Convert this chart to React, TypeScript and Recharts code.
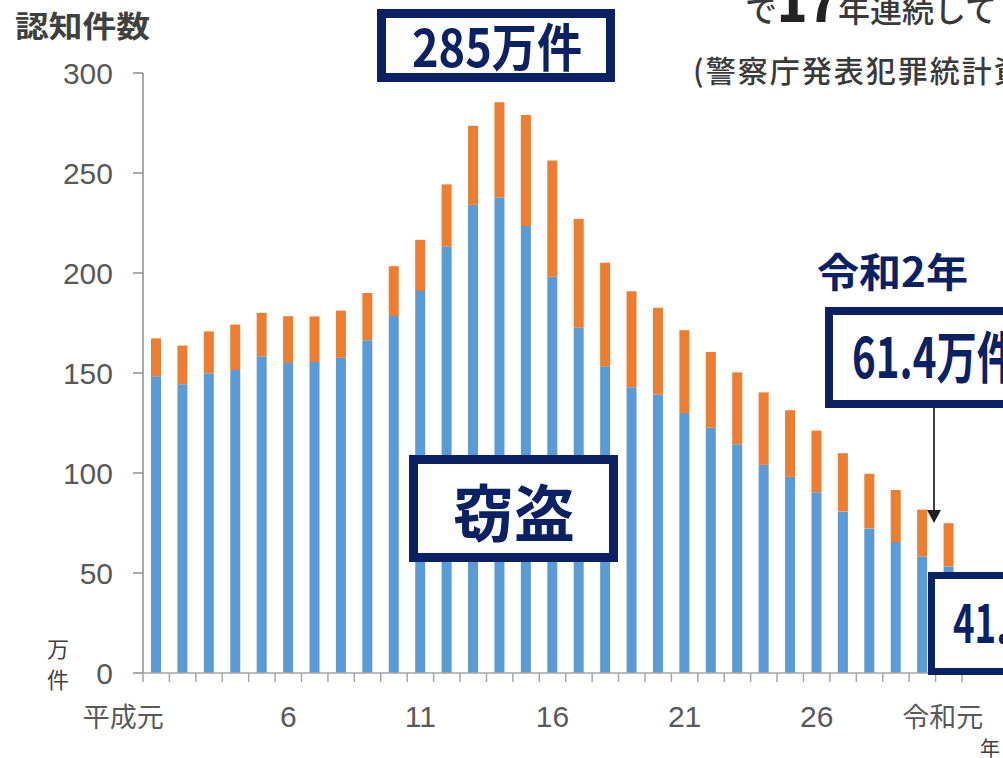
import React from 'react';
import { BarChart, Bar, XAxis, YAxis } from 'recharts';

const years = ['平成元', '2', '3', '4', '5', '6', '7', '8', '9', '10', '11', '12', '13', '14', '15', '16', '17', '18', '19', '20', '21', '22', '23', '24', '25', '26', '27', '28', '29', '30', '令和元'];
const theft = [148.4, 144.4, 149.9, 151.5, 158.4, 155.0, 155.5, 157.6, 166.4, 178.5, 191.0, 213.2, 234.1, 237.8, 223.5, 198.1, 172.6, 153.4, 142.9, 139.2, 130.0, 122.7, 114.4, 104.1, 98.1, 90.4, 80.8, 72.3, 65.5, 58.3, 53.3];
const other = [18.9, 19.3, 20.9, 22.7, 21.7, 23.4, 22.8, 23.6, 23.6, 24.9, 25.6, 31.1, 39.5, 47.6, 55.5, 58.2, 54.4, 51.7, 48.0, 43.4, 41.4, 37.8, 35.9, 36.2, 33.3, 30.8, 29.1, 27.3, 26.0, 23.4, 21.6];
const yTicks = [0, 50, 100, 150, 200, 250, 300];
const xLabels = ['平成元', '6', '11', '16', '21', '26', '令和元'];

const data = years.map((year, i) => ({ year, theft: theft[i], other: other[i] }));

const NAVY = '#0a2163';
const JP = '"Noto Sans CJK JP", "Noto Sans", sans-serif';

function XTick(props: any) {
  const { x, y, payload, index, visibleTicksCount } = props;
  const half = payload && payload.offset ? payload.offset : 13.2;
  const label = payload.value as string;
  const show = xLabels.includes(label);
  const isKanji = label === '平成元' || label === '令和元';
  const shift = label === '平成元' ? -33 : label === '令和元' ? -6 : 0;
  return (
    <g>
      <line x1={x - half} x2={x - half} y1={y} y2={y + 9} stroke="#a6a6a6" strokeWidth={1.5} />
      {index === visibleTicksCount - 1 && (
        <line x1={x + half} x2={x + half} y1={y} y2={y + 9} stroke="#a6a6a6" strokeWidth={1.5} />
      )}
      {show && (
        <text
          x={x + shift}
          y={y + 54}
          textAnchor="middle"
          fill="#595959"
          fontSize={isKanji ? 27 : 30}
          fontFamily={isKanji ? JP : '"Liberation Sans", sans-serif'}
        >
          {label}
        </text>
      )}
    </g>
  );
}

export default function App() {
  return (
    <div style={{ position: 'absolute', left: 0, top: 0, width: 1003, height: 758, background: '#fff', overflow: 'hidden' }}>
      <BarChart
        width={1003}
        height={758}
        data={data}
        margin={{ top: 73, right: 41, bottom: 45, left: 83 }}
        barSize={10}
      >
        <XAxis
          dataKey="year"
          interval={0}
          tickLine={false}
          tickSize={0}
          tickMargin={0}
          height={40}
          stroke="#a6a6a6"
          strokeWidth={1.5}
          tick={<XTick />}
        />
        <YAxis
          domain={[0, 300]}
          ticks={yTicks}
          width={60}
          tickSize={10}
          tickMargin={20}
          stroke="#8c8c8c"
          strokeWidth={1.5}
          tick={{ fill: '#595959', fontSize: 30, fontFamily: '"Liberation Sans", sans-serif' }}
        />
        <Bar dataKey="theft" stackId="a" fill="#5b9bd5" isAnimationActive={false} />
        <Bar dataKey="other" stackId="a" fill="#ed7d31" isAnimationActive={false} />
      </BarChart>
      <svg width={1003} height={758} style={{ position: 'absolute', left: 0, top: 0, pointerEvents: 'none' }}>
        <text x={15} y={37} fontSize={30} fontWeight={700} fill="#404040" fontFamily={JP} textLength={135} lengthAdjust="spacingAndGlyphs">認知件数</text>
        <text x={58} y={657} fontSize={22} fill="#404040" fontFamily={JP} textAnchor="middle">万</text>
        <text x={58} y={688} fontSize={22} fill="#404040" fontFamily={JP} textAnchor="middle">件</text>

        <text x={745} y={22} fill="#3a3a3a" fontFamily={JP} fontSize={32} fontWeight={500}>
          で<tspan fontSize={50} fontWeight={900} fill="#222">17</tspan>年連続して
        </text>
        <text x={693} y={82} fill="#3a3a3a" fontFamily={JP} fontSize={30} fontWeight={500} letterSpacing={2}>(警察庁発表犯罪統計資</text>

        <rect x={381.5} y={13.5} width={229} height={64} fill="#fff" stroke={NAVY} strokeWidth={9} />
        <text x={412} y={67} fontSize={52} fontWeight={700} fill={NAVY} fontFamily={JP} textLength={170} lengthAdjust="spacingAndGlyphs">285万件</text>

        <rect x={413.5} y={459.5} width={200} height={98} fill="#fff" stroke={NAVY} strokeWidth={9} />
        <text x={453} y={537} fontSize={62} fontWeight={700} fill={NAVY} fontFamily={JP} textLength={122} lengthAdjust="spacingAndGlyphs">窃盗</text>

        <text x={817} y={287} fontSize={40} fontWeight={700} fill={NAVY} fontFamily={JP} textLength={151} lengthAdjust="spacingAndGlyphs">令和2年</text>

        <rect x={829} y={311} width={200} height={93} fill="#fff" stroke={NAVY} strokeWidth={8} />
        <text x={852} y={378} fontSize={56} fontWeight={700} fill={NAVY} fontFamily={JP} textLength={165} lengthAdjust="spacingAndGlyphs">61.4万件</text>

        <line x1={934} y1={408} x2={934} y2={512} stroke="#404040" strokeWidth={2} />
        <polygon points="927,510 941,510 934,523" fill="#202020" />

        <rect x={931.5} y={575.5} width={100} height={96} fill="#fff" stroke={NAVY} strokeWidth={7} />
        <text x={953} y={643} fontSize={52} fontWeight={700} fill={NAVY} fontFamily={JP} textLength={150} lengthAdjust="spacingAndGlyphs">41.7万件</text>

        <text x={980} y={756} fontSize={20} fill="#404040" fontFamily={JP}>年</text>
      </svg>
    </div>
  );
}
